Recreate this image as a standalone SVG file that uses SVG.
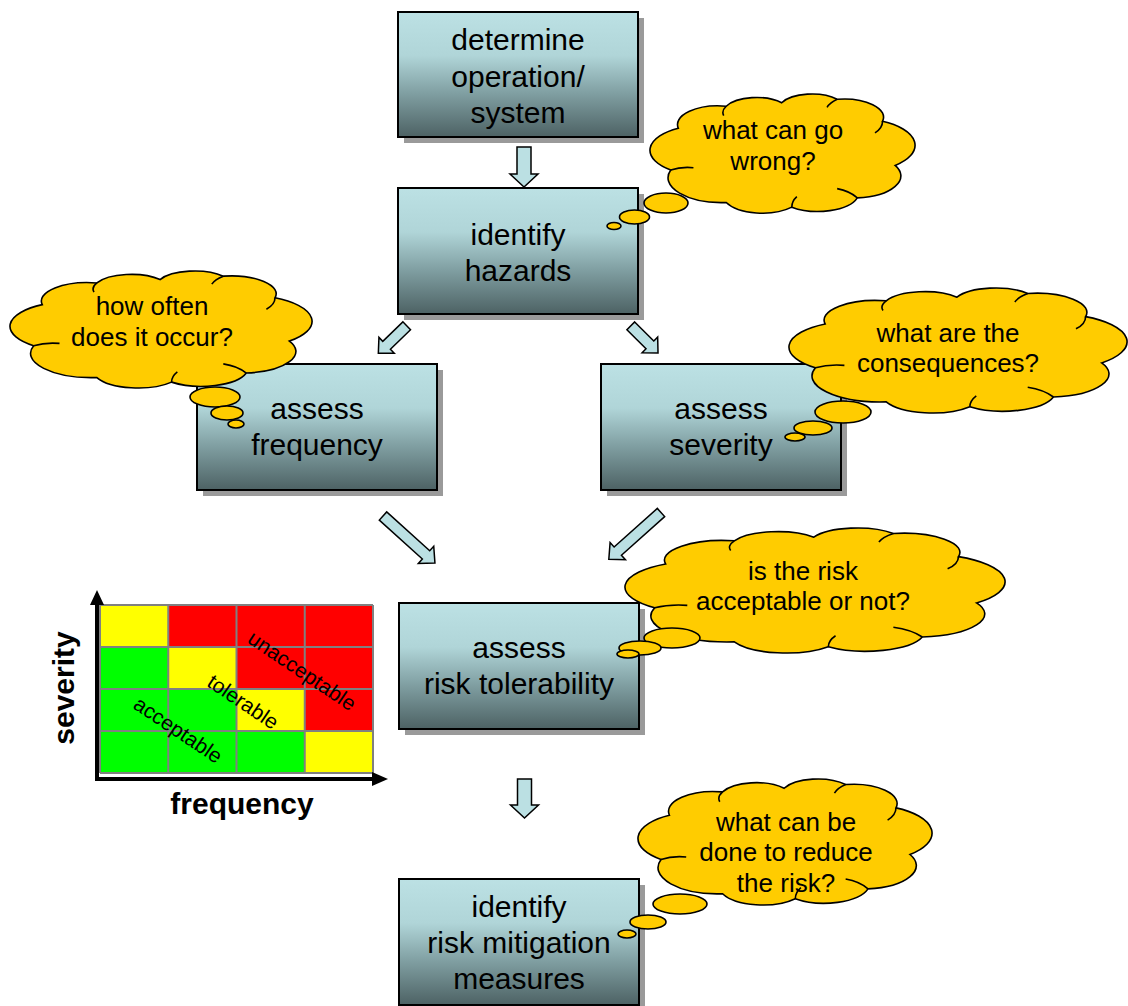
<svg xmlns="http://www.w3.org/2000/svg" xmlns:xlink="http://www.w3.org/1999/xlink" width="1128" height="1006" viewBox="0 0 1128 1006">
<defs>
<linearGradient id="boxg" x1="0" y1="0" x2="0" y2="1">
<stop offset="0" stop-color="#BCE1E4"/>
<stop offset="0.35" stop-color="#B0D5D8"/>
<stop offset="0.65" stop-color="#809FA2"/>
<stop offset="1" stop-color="#4D6264"/>
</linearGradient>
<path id="cloud" vector-effect="non-scaling-stroke" d="M6,64 A21.67,21.67 0 0 1 9,28 A16.12,16.12 0 0 1 28,9 A13.32,13.32 0 0 1 50,6 A13.32,13.32 0 0 1 72,3 A15.7,15.7 0 0 1 90,22 A23,23 0 0 1 95,60 A19.06,19.06 0 0 1 80,88 A16.32,16.32 0 0 1 54,96 A15.78,15.78 0 0 1 28,92 A21.37,21.37 0 0 1 6,64 Z"/>
<path id="cloudIn" vector-effect="non-scaling-stroke" fill="none" d="M6,64 Q10,61 15,62 M28,9 Q26,13 27,17 M72,3 Q69,6 68,10 M90,22 Q90,28 87,32 M80,88 Q77,82 72,80 M54,96 Q54,91 56,87"/>
</defs>
<style>
.shadow{fill:#9a9a9a}
.box{fill:url(#boxg);stroke:#000;stroke-width:2}
.bt{font-family:"Liberation Sans",Arial,sans-serif;font-size:30px;fill:#000;text-anchor:middle}
.ct{font-family:"Liberation Sans",Arial,sans-serif;font-size:26px;fill:#000;text-anchor:middle}
.cl{fill:#FFCC00;stroke:#000;stroke-width:1.6}
.cli{stroke:#000;stroke-width:1.6}
.bub{fill:#FFCC00;stroke:#000;stroke-width:1.6}
.arr{fill:#BBE0E3;stroke:#000;stroke-width:1.5;stroke-linejoin:miter}
.grid{stroke:#808080;stroke-width:2}
.ml{font-family:"Liberation Sans",Arial,sans-serif;font-size:21px;fill:#000;text-anchor:middle}
.ax{font-family:"Liberation Sans",Arial,sans-serif;font-size:30px;font-weight:bold;fill:#000;text-anchor:middle}
</style>
<rect width="1128" height="1006" fill="#fff"/>

<g id="connectors">
<polygon class="arr" transform="translate(524,147) rotate(90)" points="0,-7 27,-7 27,-14 40,0 27,14 27,7 0,7"/>
<polygon class="arr" transform="translate(406.7,325.8) rotate(135.9)" points="0,-5.5 28,-5.5 28,-11 39.5,0 28,11 28,5.5 0,5.5"/>
<polygon class="arr" transform="translate(630.8,325.8) rotate(45)" points="0,-5.5 27,-5.5 27,-11 38.5,0 27,11 27,5.5 0,5.5"/>
<polygon class="arr" transform="translate(383,516) rotate(42.1)" points="0,-5.5 58,-5.5 58,-11.5 70,0 58,11.5 58,5.5 0,5.5"/>
<polygon class="arr" transform="translate(661,512.5) rotate(138.2)" points="0,-5.5 58,-5.5 58,-11.5 70,0 58,11.5 58,5.5 0,5.5"/>
<polygon class="arr" transform="translate(524.5,779) rotate(90)" points="0,-7 26,-7 26,-14 39,0 26,14 26,7 0,7"/>
</g>

<g id="box-determine">
<rect class="shadow" x="404" y="18" width="240" height="125"/>
<rect class="box" x="398" y="12" width="240" height="125"/>
<text class="bt" x="518" y="50">determine</text>
<text class="bt" x="518" y="86.5">operation/</text>
<text class="bt" x="518" y="123">system</text>
</g>

<g id="box-identify-hazards">
<rect class="shadow" x="404" y="194" width="240" height="126"/>
<rect class="box" x="398" y="188" width="240" height="126"/>
<text class="bt" x="518" y="245">identify</text>
<text class="bt" x="518" y="281">hazards</text>
</g>

<g id="box-assess-frequency">
<rect class="shadow" x="203" y="370" width="240" height="126"/>
<rect class="box" x="197" y="364" width="240" height="126"/>
<text class="bt" x="317" y="419">assess</text>
<text class="bt" x="317" y="455">frequency</text>
</g>

<g id="box-assess-severity">
<rect class="shadow" x="607" y="370" width="240" height="126"/>
<rect class="box" x="601" y="364" width="240" height="126"/>
<text class="bt" x="721" y="419">assess</text>
<text class="bt" x="721" y="455">severity</text>
</g>

<g id="box-assess-risk">
<rect class="shadow" x="405" y="609" width="240" height="126"/>
<rect class="box" x="399" y="603" width="240" height="126"/>
<text class="bt" x="519" y="658">assess</text>
<text class="bt" x="519" y="694">risk tolerability</text>
</g>

<g id="box-mitigation">
<rect class="shadow" x="405" y="885" width="240" height="126"/>
<rect class="box" x="399" y="879" width="240" height="126"/>
<text class="bt" x="519" y="917">identify</text>
<text class="bt" x="519" y="953">risk mitigation</text>
<text class="bt" x="519" y="989">measures</text>
</g>

<g id="cloud-wrong">
<use xlink:href="#cloud" class="cl" transform="translate(655.62,95.79) scale(2.5214,1.16)"/>
<use xlink:href="#cloudIn" class="cli" transform="translate(655.62,95.79) scale(2.5214,1.16)"/>
<ellipse class="bub" cx="666" cy="203" rx="22" ry="10"/>
<ellipse class="bub" cx="634.5" cy="217" rx="15" ry="7"/>
<ellipse class="bub" cx="614" cy="226" rx="7" ry="3.5"/>
<text class="ct" x="773" y="139">what can go</text>
<text class="ct" x="773" y="170">wrong?</text>
</g>

<g id="cloud-often">
<use xlink:href="#cloud" class="cl" transform="translate(16.41,272.73) scale(2.8735,1.1396)"/>
<use xlink:href="#cloudIn" class="cli" transform="translate(16.41,272.73) scale(2.8735,1.1396)"/>
<ellipse class="bub" cx="215" cy="397" rx="25" ry="10"/>
<ellipse class="bub" cx="227" cy="413" rx="16" ry="7"/>
<ellipse class="bub" cx="236" cy="424" rx="8" ry="4"/>
<text class="ct" x="152" y="315">how often</text>
<text class="ct" x="152" y="346">does it occur?</text>
</g>

<g id="cloud-consequences">
<use xlink:href="#cloud" class="cl" transform="translate(796.17,289.85) scale(3.216,1.2175)"/>
<use xlink:href="#cloudIn" class="cli" transform="translate(796.17,289.85) scale(3.216,1.2175)"/>
<ellipse class="bub" cx="843" cy="412" rx="28" ry="11"/>
<ellipse class="bub" cx="813" cy="428" rx="19" ry="7"/>
<ellipse class="bub" cx="795" cy="437" rx="10" ry="4"/>
<text class="ct" x="948" y="342">what are the</text>
<text class="ct" x="948" y="372">consequences?</text>
</g>

<g id="cloud-acceptable">
<use xlink:href="#cloud" class="cl" transform="translate(633.06,529.85) scale(3.6156,1.2175)"/>
<use xlink:href="#cloudIn" class="cli" transform="translate(633.06,529.85) scale(3.6156,1.2175)"/>
<ellipse class="bub" cx="672" cy="638" rx="28" ry="10"/>
<ellipse class="bub" cx="640" cy="648" rx="21" ry="7"/>
<ellipse class="bub" cx="628" cy="654" rx="11" ry="4"/>
<text class="ct" x="803" y="580">is the risk</text>
<text class="ct" x="803" y="610">acceptable or not?</text>
</g>

<g id="cloud-reduce">
<use xlink:href="#cloud" class="cl" transform="translate(644.24,780.87) scale(2.7973,1.2272)"/>
<use xlink:href="#cloudIn" class="cli" transform="translate(644.24,780.87) scale(2.7973,1.2272)"/>
<ellipse class="bub" cx="680" cy="904" rx="27" ry="10"/>
<ellipse class="bub" cx="648" cy="922" rx="18" ry="7"/>
<ellipse class="bub" cx="627" cy="934" rx="9" ry="4"/>
<text class="ct" x="786" y="831">what can be</text>
<text class="ct" x="786" y="861">done to reduce</text>
<text class="ct" x="786" y="892">the risk?</text>
</g>

<g id="risk-matrix">
<rect x="100" y="605" width="68.25" height="42" fill="#FFFF00"/>
<rect x="168.25" y="605" width="68.25" height="42" fill="#FF0000"/>
<rect x="236.5" y="605" width="68.25" height="42" fill="#FF0000"/>
<rect x="304.75" y="605" width="68.25" height="42" fill="#FF0000"/>
<rect x="100" y="647" width="68.25" height="42" fill="#00FF00"/>
<rect x="168.25" y="647" width="68.25" height="42" fill="#FFFF00"/>
<rect x="236.5" y="647" width="68.25" height="42" fill="#FF0000"/>
<rect x="304.75" y="647" width="68.25" height="42" fill="#FF0000"/>
<rect x="100" y="689" width="68.25" height="42" fill="#00FF00"/>
<rect x="168.25" y="689" width="68.25" height="42" fill="#00FF00"/>
<rect x="236.5" y="689" width="68.25" height="42" fill="#FFFF00"/>
<rect x="304.75" y="689" width="68.25" height="42" fill="#FF0000"/>
<rect x="100" y="731" width="68.25" height="42" fill="#00FF00"/>
<rect x="168.25" y="731" width="68.25" height="42" fill="#00FF00"/>
<rect x="236.5" y="731" width="68.25" height="42" fill="#00FF00"/>
<rect x="304.75" y="731" width="68.25" height="42" fill="#FFFF00"/>
<g class="grid">
<line x1="100" y1="605" x2="373" y2="605"/>
<line x1="100" y1="647" x2="373" y2="647"/>
<line x1="100" y1="689" x2="373" y2="689"/>
<line x1="100" y1="731" x2="373" y2="731"/>
<line x1="100" y1="773" x2="373" y2="773"/>
<line x1="100" y1="605" x2="100" y2="773"/>
<line x1="168.25" y1="605" x2="168.25" y2="773"/>
<line x1="236.5" y1="605" x2="236.5" y2="773"/>
<line x1="304.75" y1="605" x2="304.75" y2="773"/>
<line x1="373" y1="605" x2="373" y2="773"/>
</g>
<text class="ml" transform="translate(302,671) rotate(34)" x="0" y="7">unacceptable</text>
<text class="ml" transform="translate(243,702) rotate(34)" x="0" y="7">tolerable</text>
<text class="ml" transform="translate(178,730) rotate(34)" x="0" y="7">acceptable</text>
<line x1="97" y1="781" x2="97" y2="602" stroke="#000" stroke-width="4"/>
<polygon points="97,590 90,605 104,605" fill="#000"/>
<line x1="95" y1="779" x2="374" y2="779" stroke="#000" stroke-width="4"/>
<polygon points="388,779 372,772 372,786" fill="#000"/>
<text class="ax" transform="translate(74,688) rotate(-90)" x="0" y="0">severity</text>
<text class="ax" x="242" y="814">frequency</text>
</g>
</svg>
